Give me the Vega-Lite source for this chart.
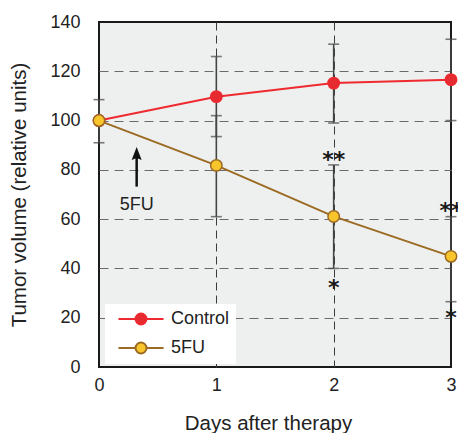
{
  "$schema": "https://vega.github.io/schema/vega-lite/v6.json",
  "width": 352,
  "height": 345,
  "autosize": {"type": "none"},
  "padding": {"left": 99, "top": 22, "right": 7, "bottom": 66},
  "config": {
    "font": "Liberation Sans",
    "view": {"fill": "#eef0ef", "stroke": "#1a1a1a", "strokeWidth": 2},
    "axis": {
      "domain": false,
      "ticks": false,
      "labelFlush": false,
      "labelFontSize": 18,
      "labelColor": "#222222",
      "titleFontSize": 20.5,
      "titleFontWeight": "normal",
      "titleColor": "#222222",
      "gridWidth": 1
    }
  },
  "datasets": {
    "means": [
      {"series": "Control", "day": 0, "value": 100},
      {"series": "Control", "day": 1, "value": 109.7},
      {"series": "Control", "day": 2, "value": 115.2},
      {"series": "Control", "day": 3, "value": 116.6},
      {"series": "5FU", "day": 0, "value": 100},
      {"series": "5FU", "day": 1, "value": 81.8},
      {"series": "5FU", "day": 2, "value": 61.1},
      {"series": "5FU", "day": 3, "value": 44.9}
    ],
    "err": [
      {"day": 0, "value": 91, "hi": 108.5},
      {"day": 1, "value": 93.5, "hi": 126},
      {"day": 2, "value": 99, "hi": 131},
      {"day": 3, "value": 100, "hi": 133},
      {"day": 1, "value": 61, "hi": 102},
      {"day": 2, "value": 40, "hi": 82},
      {"day": 3, "value": 26.5, "hi": 61}
    ],
    "stars": [
      {"day": 2, "value": 81, "label": "**"},
      {"day": 2, "value": 29.3, "label": "*"},
      {"day": 3, "value": 60.3, "label": "**"},
      {"day": 3, "value": 16.9, "label": "*"}
    ],
    "arrow": [
      {"day": 0.321, "value": 73.2, "top": 85, "head": 85.2, "label": "5FU", "labelY": 63.6}
    ]
  },
  "encoding": {
    "x": {
      "field": "day",
      "type": "quantitative",
      "scale": {"domain": [0, 3], "nice": false, "zero": false},
      "axis": {
        "values": [0, 1, 2, 3],
        "format": "d",
        "title": "Days after therapy",
        "titleX": 169,
        "labelPadding": 9,
        "titlePadding": 19,
        "grid": true,
        "gridDash": [8, 5],
        "gridColor": {"condition": {"test": "datum.value === 0 || datum.value === 3", "value": "transparent"}, "value": "#3a3a3a"}
      }
    },
    "y": {
      "field": "value",
      "type": "quantitative",
      "scale": {"domain": [0, 140], "nice": false},
      "axis": {
        "values": [0, 20, 40, 60, 80, 100, 120, 140],
        "title": "Tumor volume (relative units)",
        "labelPadding": 19,
        "titlePadding": 20,
        "grid": true,
        "gridDash": [9, 6],
        "gridColor": {"condition": {"test": "datum.value === 0 || datum.value === 140", "value": "transparent"}, "value": "#6a6a6a"}
      }
    }
  },
  "layer": [
    {
      "data": {"name": "err"},
      "mark": {
        "type": "errorbar",
        "color": "#444444",
        "thickness": 1.6,
        "ticks": {"size": 11, "thickness": 1.6, "color": "#444444"}
      },
      "encoding": {
        "y2": {"field": "hi"}
      }
    },
    {
      "data": {"name": "means"},
      "mark": {"type": "line", "strokeWidth": 2},
      "encoding": {
        "stroke": {
          "field": "series",
          "type": "nominal",
          "scale": {"domain": ["Control", "5FU"], "range": ["#ee2a30", "#9b6b23"]},
          "legend": {
            "title": null,
            "orient": "none",
            "legendX": 6,
            "legendY": 282,
            "fillColor": "#ffffff",
            "padding": 6,
            "symbolType": "M-4.4,0H-1.07M1.07,0H4.4M-1.07,0A1.07,1.07 0 1,0 1.07,0A1.07,1.07 0 1,0 -1.07,0Z",
            "symbolSize": 105,
            "symbolStrokeWidth": 2,
            "symbolOffset": 21,
            "labelOffset": 21,
            "labelFontSize": 18,
            "labelColor": "#222222",
            "rowPadding": 9
          }
        }
      }
    },
    {
      "data": {"name": "means"},
      "mark": {"type": "point", "filled": true, "opacity": 1, "size": 130, "strokeWidth": 1.5, "shape": "circle"},
      "encoding": {
        "fill": {
          "field": "series",
          "type": "nominal",
          "scale": {"domain": ["Control", "5FU"], "range": ["#e52b2f", "#f8c62c"]},
          "legend": {
            "title": null,
            "orient": "none",
            "legendX": 6,
            "legendY": 282,
            "fillColor": "#ffffff",
            "padding": 6,
            "symbolType": "M-4.4,0H-1.07M1.07,0H4.4M-1.07,0A1.07,1.07 0 1,0 1.07,0A1.07,1.07 0 1,0 -1.07,0Z",
            "symbolSize": 105,
            "symbolStrokeWidth": 2,
            "symbolOffset": 21,
            "labelOffset": 21,
            "labelFontSize": 18,
            "labelColor": "#222222",
            "rowPadding": 9
          }
        },
        "stroke": {
          "field": "series",
          "type": "nominal",
          "legend": {
            "title": null,
            "orient": "none",
            "legendX": 6,
            "legendY": 282,
            "fillColor": "#ffffff",
            "padding": 6,
            "symbolType": "M-4.4,0H-1.07M1.07,0H4.4M-1.07,0A1.07,1.07 0 1,0 1.07,0A1.07,1.07 0 1,0 -1.07,0Z",
            "symbolSize": 105,
            "symbolStrokeWidth": 2,
            "symbolOffset": 21,
            "labelOffset": 21,
            "labelFontSize": 18,
            "labelColor": "#222222",
            "rowPadding": 9
          }
        }
      }
    },
    {
      "data": {"name": "stars"},
      "mark": {"type": "text", "font": "DejaVu Sans", "fontSize": 22, "fontWeight": "bold", "baseline": "alphabetic", "align": "center", "color": "#1a1a1a"},
      "encoding": {
        "text": {"field": "label"}
      }
    },
    {
      "data": {"name": "arrow"},
      "mark": {"type": "rule", "strokeWidth": 2.5, "color": "#111111"},
      "encoding": {
        "y2": {"field": "top"}
      }
    },
    {
      "data": {"name": "arrow"},
      "mark": {"type": "point", "filled": true, "opacity": 1, "color": "#111111", "size": 400, "shape": "M0,-1L0.5,0.3L0,0.1L-0.5,0.3Z"},
      "encoding": {
        "y": {"field": "head", "type": "quantitative"}
      }
    },
    {
      "data": {"name": "arrow"},
      "mark": {"type": "text", "fontSize": 18, "baseline": "alphabetic", "align": "center", "color": "#222222"},
      "encoding": {
        "y": {"field": "labelY", "type": "quantitative"},
        "text": {"field": "label"}
      }
    }
  ]
}
